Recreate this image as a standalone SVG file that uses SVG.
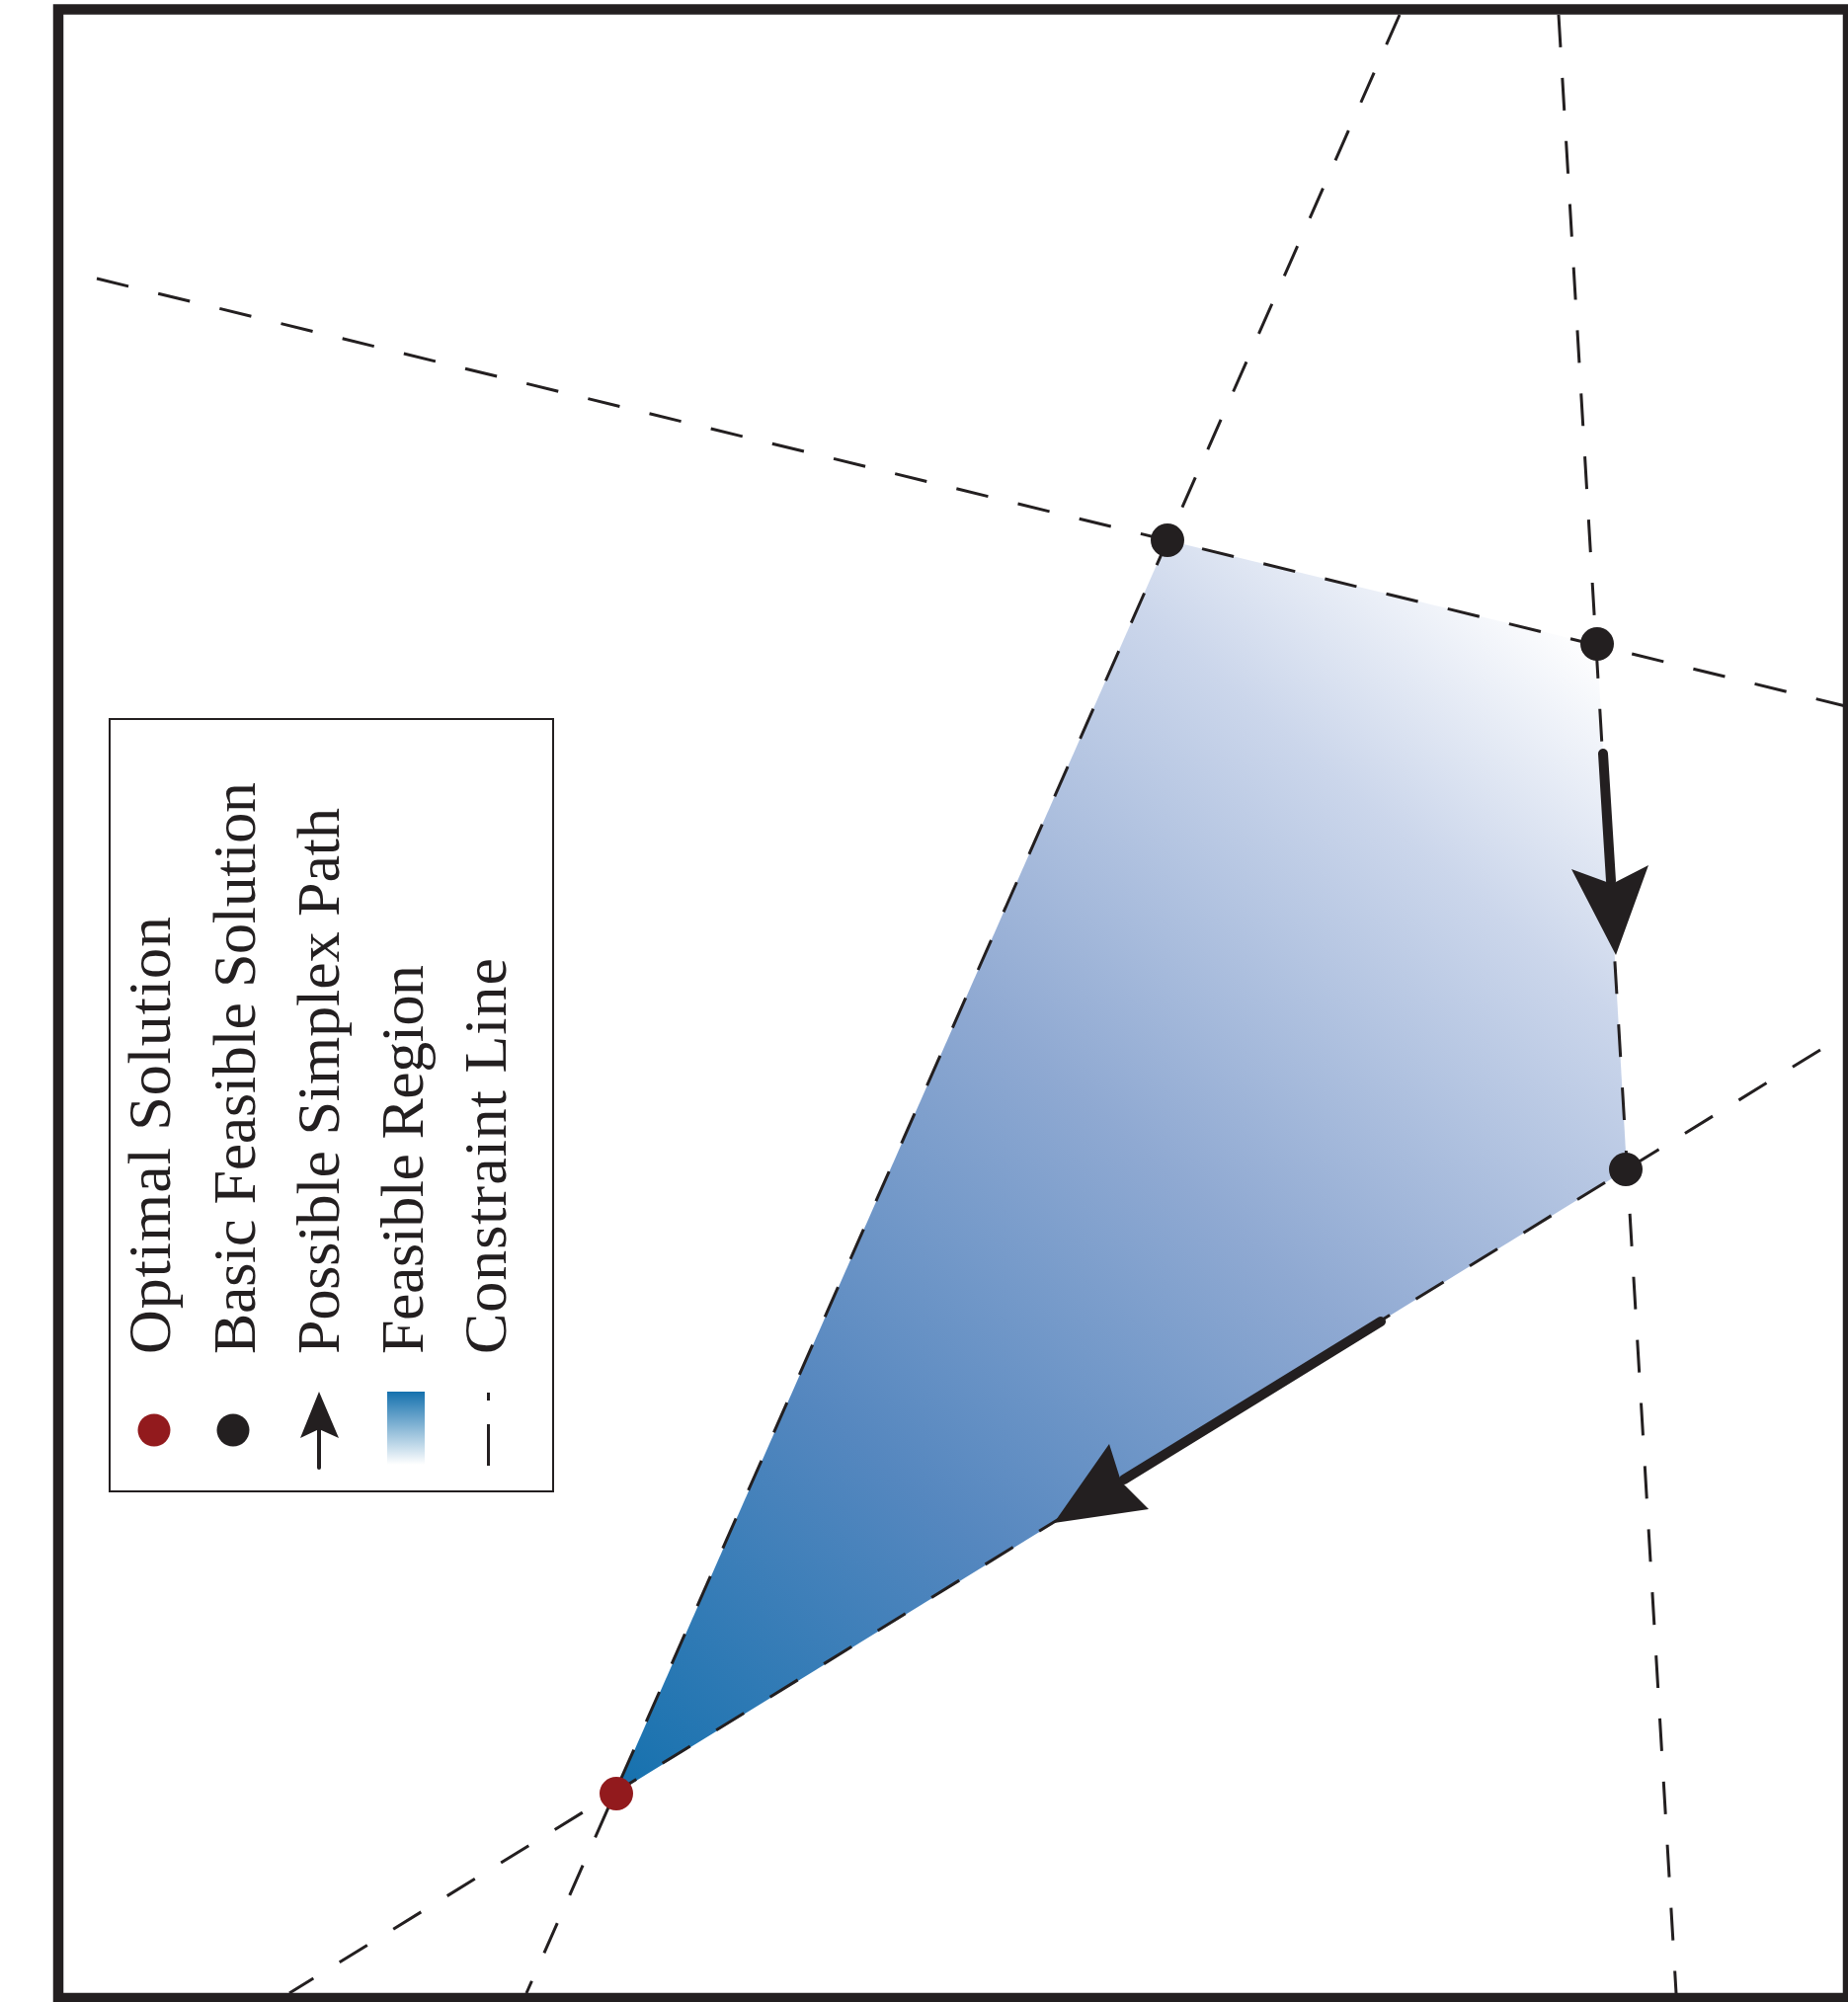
<svg xmlns="http://www.w3.org/2000/svg" width="1871" height="2027" viewBox="0 0 1871 2027">
<style>
.cl{fill:none;stroke:#231f20;stroke-width:3;stroke-dasharray:33 31}
.bfs{fill:#231f20}
.opt{fill:#921a1d}
.lt{font-family:"Liberation Serif","Times New Roman",serif;font-size:62px;fill:#231f20}
.shaft{stroke:#231f20;stroke-width:10;stroke-linecap:round;fill:none}
.head{fill:#231f20}
</style>
<defs>
<linearGradient id="fr" gradientUnits="userSpaceOnUse" x1="624" y1="1816" x2="1617" y2="652">
<stop offset="0" stop-color="#1571ae"/>
<stop offset="0.28" stop-color="#5587bf"/>
<stop offset="0.55" stop-color="#8fa9d2"/>
<stop offset="0.82" stop-color="#cbd6eb"/>
<stop offset="1" stop-color="#ffffff"/>
</linearGradient>
<linearGradient id="sw" x1="0" y1="0" x2="0" y2="1">
<stop offset="0" stop-color="#1571ae"/>
<stop offset="1" stop-color="#ffffff"/>
</linearGradient>
</defs>
<rect width="1871" height="2027" fill="#ffffff"/>
<g id="feasible-region">
<polygon points="1182,547 1617,653 1647,1184 623,1816" fill="url(#fr)"/>
</g>
<g id="connectors">
<line class="cl" x1="98" y1="282" x2="1871" y2="715.5"/>
<line class="cl" x1="1417" y1="15" x2="533" y2="2018"/>
<line class="cl" x1="1578" y1="15" x2="1697" y2="2018"/>
<line class="cl" x1="1843" y1="1063" x2="293" y2="2018"/>
<g id="path-arrow-1">
<line class="shaft" x1="1623" y1="763" x2="1631" y2="892"/>
<polygon class="head" points="1636,967 1669,876 1632,895 1591,880"/>
</g>
<g id="path-arrow-2">
<line class="shaft" x1="1398" y1="1338" x2="1138" y2="1498"/>
<polygon class="head" points="1067,1542 1123,1462 1135,1500 1163,1528"/>
</g>
</g>
<g id="bfs-1"><circle class="bfs" cx="1182" cy="547" r="17"/></g>
<g id="bfs-2"><circle class="bfs" cx="1617" cy="652" r="17"/></g>
<g id="bfs-3"><circle class="bfs" cx="1646" cy="1184" r="17"/></g>
<g id="optimal"><circle class="opt" cx="624" cy="1816" r="17"/></g>
<g id="legend">
<rect x="111" y="728" width="449" height="782" fill="none" stroke="#231f20" stroke-width="2"/>
<circle class="opt" cx="156" cy="1448" r="16.5"/>
<circle class="bfs" cx="236" cy="1448" r="16.5"/>
<line x1="323" y1="1486" x2="323" y2="1440" stroke="#231f20" stroke-width="4" stroke-linecap="round"/>
<polygon class="head" points="323,1409 343,1456 323,1447 304,1456"/>
<rect x="392" y="1409" width="38" height="74" fill="url(#sw)"/>
<line x1="494.5" y1="1410" x2="494.5" y2="1418" stroke="#231f20" stroke-width="3"/>
<line x1="494.5" y1="1442" x2="494.5" y2="1484" stroke="#231f20" stroke-width="3"/>
<text class="lt" transform="translate(172,1371) rotate(-90)" textLength="443" lengthAdjust="spacing">Optimal Solution</text>
<text class="lt" transform="translate(258,1371) rotate(-90)" textLength="579" lengthAdjust="spacing">Basic Feasible Solution</text>
<text class="lt" transform="translate(343,1371) rotate(-90)" textLength="553" lengthAdjust="spacing">Possible Simplex Path</text>
<text class="lt" transform="translate(428,1371) rotate(-90)" textLength="394" lengthAdjust="spacing">Feasible Region</text>
<text class="lt" transform="translate(512,1371) rotate(-90)" textLength="401" lengthAdjust="spacing">Constraint Line</text>
</g>
<rect id="frame" x="59" y="9.5" width="1812" height="2013.5" fill="none" stroke="#231f20" stroke-width="10.5"/>
</svg>
